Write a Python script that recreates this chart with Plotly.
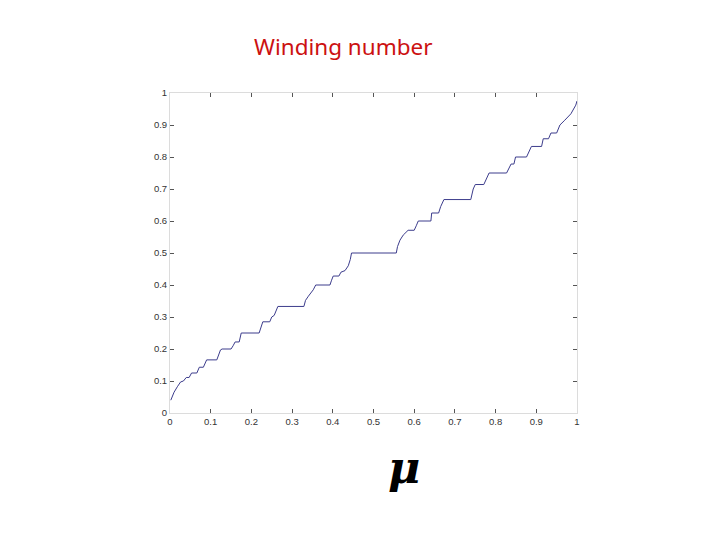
import plotly.graph_objects as go

# Winding number (devil's staircase)
mu = [0.002, 0.010, 0.018, 0.026, 0.033, 0.037, 0.040, 0.047, 0.050, 0.053,
      0.066, 0.069, 0.072, 0.082, 0.086, 0.090, 0.115, 0.119, 0.124, 0.128,
      0.150, 0.155, 0.160, 0.170, 0.172, 0.175, 0.219, 0.223, 0.228, 0.245,
      0.250, 0.256, 0.260, 0.265, 0.329, 0.333, 0.340, 0.346, 0.352, 0.358,
      0.393, 0.397, 0.401, 0.415, 0.420, 0.430, 0.438, 0.443, 0.446, 0.556,
      0.559, 0.565, 0.573, 0.585, 0.600, 0.605, 0.610, 0.641, 0.643, 0.660,
      0.665, 0.673, 0.739, 0.745, 0.750, 0.771, 0.776, 0.784, 0.827, 0.832,
      0.838, 0.845, 0.849, 0.876, 0.882, 0.888, 0.913, 0.917, 0.930, 0.936,
      0.950, 0.958, 0.970, 0.985, 0.997, 1.000]
winding = [0.040, 0.065, 0.082, 0.097, 0.100, 0.106, 0.111, 0.111, 0.118, 0.125,
           0.125, 0.134, 0.143, 0.143, 0.155, 0.166, 0.166, 0.180, 0.197, 0.200,
           0.200, 0.210, 0.222, 0.222, 0.236, 0.250, 0.250, 0.265, 0.285, 0.285,
           0.300, 0.305, 0.318, 0.333, 0.333, 0.352, 0.365, 0.375, 0.385, 0.400,
           0.400, 0.415, 0.428, 0.428, 0.440, 0.445, 0.460, 0.480, 0.500, 0.500,
           0.520, 0.540, 0.556, 0.571, 0.571, 0.585, 0.600, 0.600, 0.625, 0.625,
           0.645, 0.667, 0.667, 0.700, 0.714, 0.714, 0.730, 0.750, 0.750, 0.765,
           0.778, 0.778, 0.800, 0.800, 0.818, 0.833, 0.833, 0.857, 0.857, 0.875,
           0.875, 0.900, 0.915, 0.935, 0.962, 0.975]

tick_vals = [0, 0.1, 0.2, 0.3, 0.4, 0.5, 0.6, 0.7, 0.8, 0.9, 1]
tick_text = ["0", "0.1", "0.2", "0.3", "0.4", "0.5", "0.6", "0.7", "0.8", "0.9", "1"]

fig = go.Figure()
fig.add_trace(go.Scatter(x=mu, y=winding, mode="lines",
                         line=dict(color="#3c3c8c", width=1),
                         showlegend=False, hoverinfo="skip"))

axis_common = dict(
    range=[0, 1], tickvals=tick_vals, ticktext=tick_text,
    ticks="inside", ticklen=4, tickcolor="#555555", tickwidth=1,
    showline=True, linecolor="#dcdcdc", linewidth=1, mirror="ticks",
    showgrid=False, zeroline=False,
    tickfont=dict(family="Liberation Sans, Arial", size=9.5, color="#333333"),
)
fig.update_xaxes(**axis_common)
fig.update_yaxes(**axis_common)

fig.add_annotation(text="Winding number", xref="paper", yref="paper",
                   x=0.426, y=1.144, showarrow=False, xanchor="center", yanchor="middle",
                   font=dict(family="Noto Sans", size=22.5, color="#cc1111"))
fig.add_annotation(text="<b><i>μ</i></b>", xref="paper", yref="paper",
                   x=0.575, y=-0.169, showarrow=False, xanchor="center", yanchor="middle",
                   font=dict(family="DejaVu Serif", size=44, color="#000000"))

fig.update_layout(width=720, height=540,
                  margin=dict(l=162, r=151, t=85, b=135),
                  paper_bgcolor="white", plot_bgcolor="white")

fig.write_html("out.html")
